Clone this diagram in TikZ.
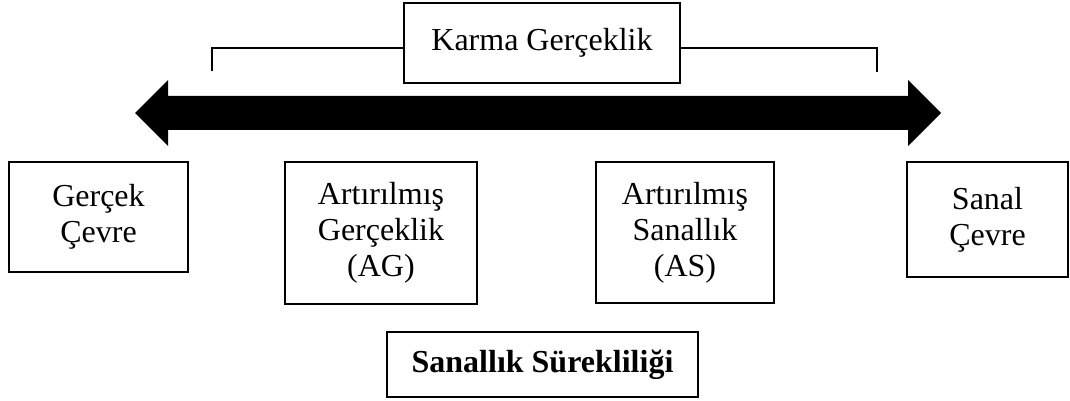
\documentclass[tikz,border=0pt]{standalone}
\usepackage{fontspec}
\setmainfont{Liberation Serif}
\begin{document}
\begin{tikzpicture}[x=1pt,y=-1pt,
  bx/.style={draw,line width=1.6pt,inner sep=0pt,align=center,
    font=\fontsize{32}{36}\selectfont},
  bkt/.style={line width=1.6pt}]
\useasboundingbox (0,0) rectangle (1070,401);
% boxes
\node[bx,minimum width=276pt,minimum height=80pt] (karma) at (542,43) {Karma Gerçeklik};
\node[bx,minimum width=179pt,minimum height=110pt] (gc) at (98.5,217) {Gerçek\\Çevre};
\node[bx,minimum width=192pt,minimum height=142pt] (ag) at (381,233) {Artırılmış\\Gerçeklik\\(AG)};
\node[bx,minimum width=178pt,minimum height=141pt] (as) at (685,232.5) {Artırılmış\\Sanallık\\(AS)};
\node[bx,minimum width=161pt,minimum height=115pt] (sc) at (987.5,219.5) {Sanal\\Çevre};
\node[bx,minimum width=311pt,minimum height=65pt,font=\fontsize{32}{36}\selectfont\bfseries] (ss) at (542.5,364.5) {Sanallık Sürekliliği};
% bracket
\coordinate (lt) at (212,48);
\coordinate (lb) at (212,71);
\coordinate (rt) at (877,48);
\coordinate (rb) at (877,72);
\draw[bkt] (karma.west |- lt) -- (lt) -- (lb);
\draw[bkt] (karma.east |- rt) -- (rt) -- (rb);
% double arrow
\fill (135,113) -- (168,80) -- (168,96) -- (908,96) -- (908,80) -- (941,113)
  -- (908,146) -- (908,130) -- (168,130) -- (168,146) -- cycle;
\end{tikzpicture}
\end{document}
